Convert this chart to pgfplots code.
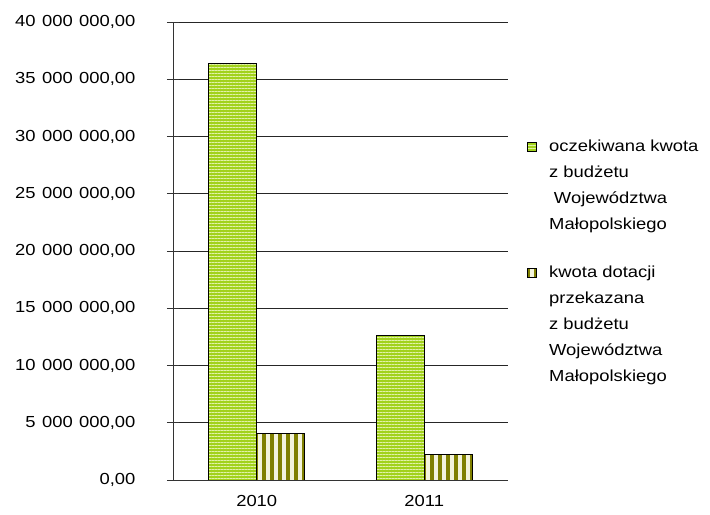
\documentclass[border=0pt]{standalone}
\usepackage{pgfplots}
\pgfplotsset{compat=1.18}
\usetikzlibrary{patterns.meta}
\usepackage{fontspec}
\setmainfont{Liberation Sans}
\newfontfamily\chartfam[FakeStretch=1.15]{Liberation Sans}
\definecolor{gbase}{HTML}{A2D21C}
\definecolor{gline}{HTML}{E2F2A8}
\definecolor{olivedark}{HTML}{808000}
\definecolor{olivebg}{HTML}{F4F4DC}
\newcommand{\chartfont}{\chartfam\fontsize{16}{26}\selectfont}
\tikzset{
  greenbar/.style={draw=black, line width=0.9pt, fill=gbase,
    postaction={pattern={Lines[angle=0, distance=3pt, line width=1pt]}, pattern color=gline}},
  olivebar/.style={draw=black, line width=0.9pt, fill=olivebg,
    postaction={pattern={Lines[angle=90, distance=8pt, line width=4pt]}, pattern color=olivedark}},
}
\begin{document}
\begin{tikzpicture}
\begin{axis}[
  scale only axis, width=335pt, height=458pt,
  ymin=0, ymax=40000000, xmin=-0.5, xmax=1.5,
  ytick={0,5000000,10000000,15000000,20000000,25000000,30000000,35000000,40000000},
  scaled y ticks=false,
  /pgf/number format/fixed,
  /pgf/number format/fixed zerofill,
  /pgf/number format/precision=2,
  /pgf/number format/use comma,
  /pgf/number format/1000 sep={\hspace{0.4em}},
  /pgf/number format/assume math mode=true,
  tick label style={font=\chartfont},
  yticklabel style={xshift=-28pt},
  xtick={0,1}, xticklabels={2010,2011},
  xtick style={draw=none},
  extra x ticks={-0.5,0.5,1.5}, extra x tick labels={},
  extra x tick style={tick align=outside, major tick length=6pt, grid=none, tick style={draw=black!80, line width=0.8pt}},
  axis lines*=left,
  axis line style={black!80, line width=0.9pt},
  tick align=center, major tick length=12pt,
  ytick style={black!80, line width=0.8pt},
  ymajorgrids, grid style={black!85, line width=0.7pt},
  ybar=0pt, bar width=48pt,
  legend cell align=left,
  legend style={at={(1.057,0.748)}, anchor=north west, draw=none, fill=none, inner sep=0pt,
    font=\chartfont, nodes={align=left}, cells={anchor=base west}, row sep=31pt},
]
\addplot[greenbar,
  legend image code/.code={\path (0pt,0pt) (19pt,0pt); \draw[greenbar] (0pt,78pt) rectangle (9pt,87pt);}]
  coordinates {(0,36400000) (1,12650000)};
\addlegendentry{oczekiwana kwota\\z budżetu\\\hspace{0.3em}Województwa\\Małopolskiego}
\addplot[olivebar,
  legend image code/.code={\path (0pt,0pt) (19pt,0pt); \draw[olivebar] (0pt,104pt) rectangle (9pt,113pt);}]
  coordinates {(0,4050000) (1,2200000)};
\addlegendentry{kwota dotacji\\przekazana\\z budżetu\\Województwa\\Małopolskiego}
\coordinate (bl) at (rel axis cs:0,0);
\coordinate (tr) at (rel axis cs:1,1);
\end{axis}
\pgfresetboundingbox
\path ([shift={(-173pt,-35pt)}]bl) rectangle ([shift={(202pt,22pt)}]tr);
\end{tikzpicture}
\end{document}
